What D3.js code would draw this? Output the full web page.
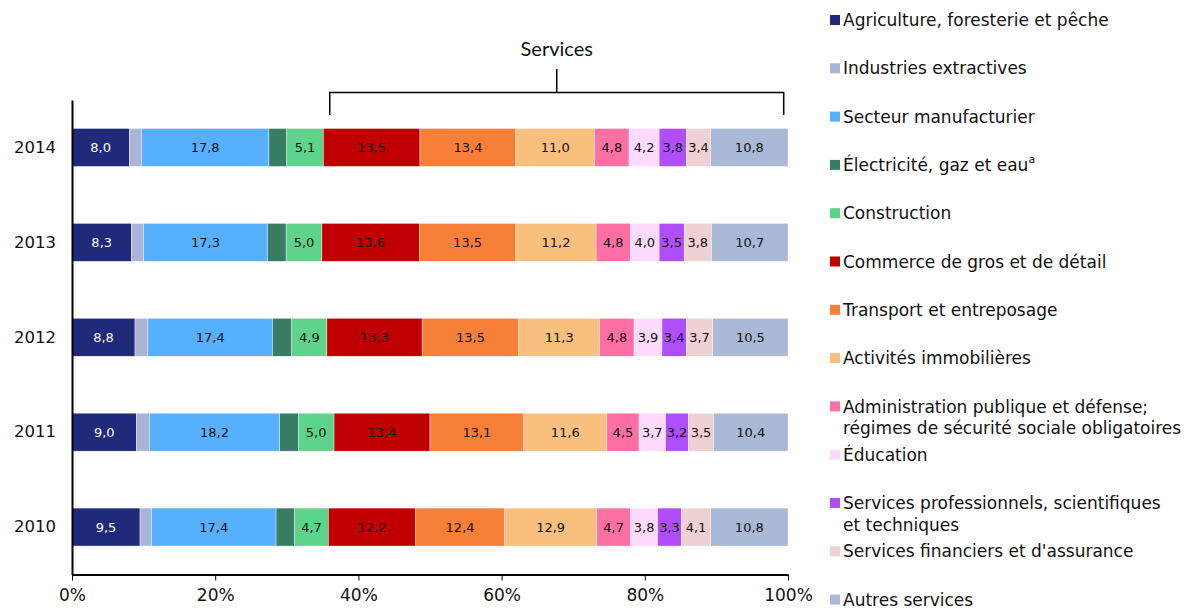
<!DOCTYPE html>
<html>
<head>
<meta charset="utf-8">
<script src="https://cdn.jsdelivr.net/npm/d3@7"></script>
<style>
  body { margin: 0; background: #fff; }
  svg { display: block; font-family: "DejaVu Sans", Verdana, sans-serif; }
</style>
</head>
<body>
<svg id="chart" width="1184" height="608"></svg>
<script>
var WIDTH = 1184;
var HEIGHT = 608;

// years, top to bottom
var years = ['2014', '2013', '2012', '2011', '2010'];

var categories = [
    'Agriculture, foresterie et pêche',
    'Industries extractives',
    'Secteur manufacturier',
    'Électricité, gaz et eau',
    'Construction',
    'Commerce de gros et de détail',
    'Transport et entreposage',
    'Activités immobilières',
    'Administration publique et défense;|régimes de sécurité sociale obligatoires',
    'Éducation',
    'Services professionnels, scientifiques|et techniques',
    'Services financiers et d\'assurance',
    'Autres services'
];

var colors = ['#1f2a7a', '#aab4d9', '#56b0fe', '#397c64', '#5dd38c', '#c00000', '#f77f38',
              '#f9bf7e', '#fe70a3', '#fedafe', '#b04dfd', '#efd0d3', '#a9b9d6'];

// values in %, same order as years
var agriculture    = [8.0, 8.3, 8.8, 9.0, 9.5];
var extractives    = [1.7, 1.7, 1.8, 1.8, 1.6];
var manufacturier  = [17.8, 17.3, 17.4, 18.2, 17.4];
var electricite    = [2.5, 2.6, 2.7, 2.6, 2.6];
var construction   = [5.1, 5.0, 4.9, 5.0, 4.7];
var commerce       = [13.5, 13.6, 13.3, 13.4, 12.2];
var transport      = [13.4, 13.5, 13.5, 13.1, 12.4];
var immobilier     = [11.0, 11.2, 11.3, 11.6, 12.9];
var administration = [4.8, 4.8, 4.8, 4.5, 4.7];
var education      = [4.2, 4.0, 3.9, 3.7, 3.8];
var professionnels = [3.8, 3.5, 3.4, 3.2, 3.3];
var financiers     = [3.4, 3.8, 3.7, 3.5, 4.1];
var autres         = [10.8, 10.7, 10.5, 10.4, 10.8];

var series = [agriculture, extractives, manufacturier, electricite, construction, commerce,
              transport, immobilier, administration, education, professionnels, financiers, autres];

// segments without a value label
var unlabeled = [1, 3];

var xTicks = [0, 20, 40, 60, 80, 100];
var servicesSpan = [36, 99.4];

var svg = d3.select('#chart');

var xScale = d3.scaleLinear().domain([0, 100]).range([72, 788]);
var yScale = d3.scaleBand().domain(years).range([100, 574.5]).paddingInner(0.6).paddingOuter(0.3);

// stack the data by year
var rows = years.map(function(year, i){
    var row = { year: year };
    categories.forEach(function(c, j){ row[j] = series[j][i]; });
    return row;
});
var stack = d3.stack().keys(d3.range(categories.length));
var stacked = stack(rows);

var formatVal = function(v){ return d3.format('.1f')(v).replace('.', ','); };

var layers = svg.append('g').attr('id', 'bars')
    .selectAll('g').data(stacked).enter()
    .append('g')
    .attr('fill', function(d){ return colors[d.key]; });

layers.selectAll('rect').data(function(d){ return d; }).enter()
    .append('rect')
    .attr('x', function(d){ return xScale(d[0]); })
    .attr('width', function(d){ return xScale(d[1]) - xScale(d[0]); })
    .attr('y', function(d){ return yScale(d.data.year); })
    .attr('height', yScale.bandwidth())
    .attr('stroke', '#fff')
    .attr('stroke-width', 0.4);

layers.filter(function(d){ return unlabeled.indexOf(d.key) < 0; })
    .selectAll('text').data(function(d){ return d.map(function(p){ p.key = d.key; return p; }); })
    .enter()
    .append('text')
    .attr('x', function(d){ return (xScale(d[0]) + xScale(d[1])) / 2; })
    .attr('y', function(d){ return yScale(d.data.year) + yScale.bandwidth() / 2; })
    .attr('dy', '0.36em')
    .attr('text-anchor', 'middle')
    .attr('font-size', 13)
    .attr('fill', function(d){ return d.key === 0 ? '#fff' : '#111'; })
    .text(function(d){ return formatVal(d[1] - d[0]); });

// x axis
var bottomAxis = d3.axisBottom(xScale)
    .tickValues(xTicks)
    .tickSize(6)
    .tickSizeOuter(0)
    .tickFormat(function(d){ return d + '%'; });

var xAxis = svg.append('g')
    .attr('id', 'x-axis')
    .attr('transform', 'translate(0,574.5)')
    .call(bottomAxis);
xAxis.select('.domain').attr('stroke', '#000').attr('stroke-width', 2);
xAxis.selectAll('.tick line').attr('stroke', '#000');
xAxis.selectAll('.tick text')
    .attr('font-family', '"DejaVu Sans", Verdana, sans-serif')
    .attr('font-size', 17)
    .attr('fill', '#111')
    .attr('y', 14);

// y axis
var leftAxis = d3.axisLeft(yScale).tickSize(0).tickPadding(16);
var yAxis = svg.append('g')
    .attr('id', 'y-axis')
    .attr('transform', 'translate(72,0)')
    .call(leftAxis);
yAxis.select('.domain').attr('stroke', '#000').attr('stroke-width', 2);
yAxis.selectAll('.tick text')
    .attr('font-family', '"DejaVu Sans", Verdana, sans-serif')
    .attr('font-size', 16.5)
    .attr('fill', '#111');

// services bracket
var bracket = svg.append('g').attr('id', 'bracket')
    .attr('stroke', '#000').attr('stroke-width', 1.5).attr('fill', 'none');
var bx0 = xScale(servicesSpan[0]), bx1 = xScale(servicesSpan[1]);
var bmid = (bx0 + bx1) / 2;
bracket.append('path')
    .attr('d', 'M' + bx0 + ',115V92.5H' + bx1 + 'V115M' + bmid + ',92.5V69');
svg.append('text')
    .attr('x', bmid)
    .attr('y', 56)
    .attr('text-anchor', 'middle')
    .attr('font-family', 'Lato, "Open Sans", sans-serif')
    .attr('font-size', 20)
    .attr('fill', '#111')
    .text('Services');

// legend
var legend = svg.append('g').attr('id', 'legend');
var items = legend.selectAll('g').data(categories).enter()
    .append('g')
    .attr('transform', function(d, i){ return 'translate(830,' + (20 + i * 48.3) + ')'; });

items.append('rect')
    .attr('x', 0)
    .attr('y', -5)
    .attr('width', 10)
    .attr('height', 10)
    .attr('fill', function(d, i){ return colors[i]; });

items.each(function(d, i){
    var lines = d.split('|');
    var t = d3.select(this).append('text')
        .attr('x', 13)
        .attr('y', 0)
        .attr('font-size', 17)
        .attr('fill', '#111');
    lines.forEach(function(line, k){
        t.append('tspan')
            .attr('x', 13)
            .attr('dy', k === 0 ? '0.36em' : '1.28em')
            .text(line);
    });
    if (i === 3) {
        t.append('tspan')
            .attr('font-size', 11)
            .attr('dy', '-0.7em')
            .text('a');
    }
});
</script>
</body>
</html>
